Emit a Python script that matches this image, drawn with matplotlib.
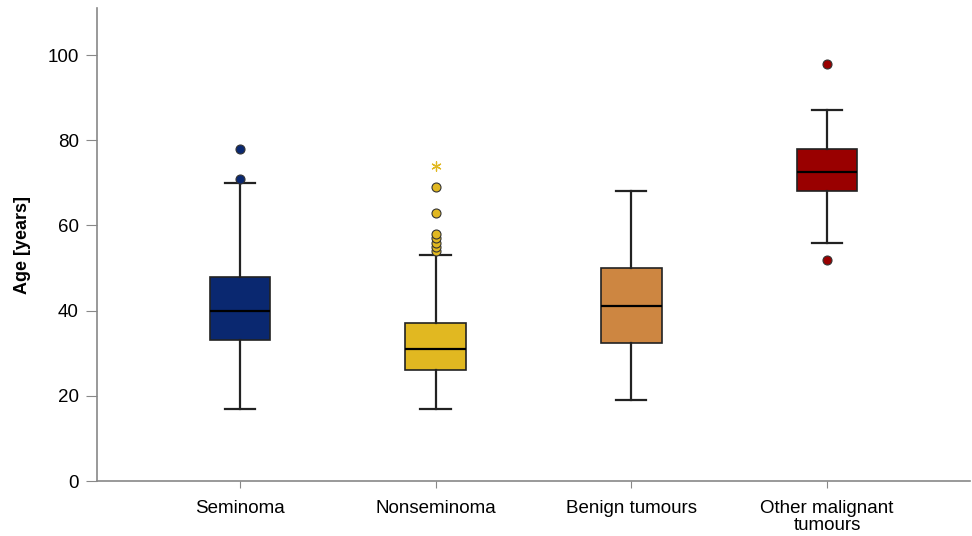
import matplotlib.pyplot as plt

# ============================================
# DATA
# ============================================

groups = ["Seminoma", "Nonseminoma", "Benign tumours", "Other malignant\ntumours"]
colors = ["#0a2870", "#e1b821", "#cd8641", "#990000"]

q1 = [33, 26, 32.5, 68]
median = [40, 31, 41, 72.5]
q3 = [48, 37, 50, 78]
whisker_low = [17, 17, 19, 56]
whisker_high = [70, 53, 68, 87]
outliers = [[71, 78], [54, 55, 56, 57, 58, 63, 69], [], [52, 98]]
extremes = [[], [74], [], []]

# ============================================
# PLOT
# ============================================

plt.rcParams["font.family"] = ["Liberation Sans", "DejaVu Sans"]

fig = plt.figure(figsize=(9.72, 5.36), dpi=100)
ax = fig.add_axes([0.0998, 0.1026, 0.898, 0.882])

stats = []
for i in range(len(groups)):
    stats.append({
        "label": groups[i],
        "q1": q1[i], "med": median[i], "q3": q3[i],
        "whislo": whisker_low[i], "whishi": whisker_high[i],
        "fliers": [],
    })

bp = ax.bxp(stats, positions=range(1, 5), widths=0.31, patch_artist=True,
            showfliers=False,
            boxprops=dict(edgecolor="#222222", linewidth=1.2),
            medianprops=dict(color="black", linewidth=1.6),
            whiskerprops=dict(color="#222222", linewidth=1.6),
            capprops=dict(color="#222222", linewidth=1.6),
            capwidths=0.155)

for patch, c in zip(bp["boxes"], colors):
    patch.set_facecolor(c)

# outliers (circles) and extremes (stars)
for i in range(len(groups)):
    if outliers[i]:
        ax.scatter([i + 1] * len(outliers[i]), outliers[i], s=42, color=colors[i],
                   edgecolor="#333333", linewidth=0.8, zorder=4)
    if extremes[i]:
        ax.scatter([i + 1] * len(extremes[i]), extremes[i], s=45, color=colors[i],
                   marker=(6, 2, 0), linewidth=0.9, zorder=4)

ax.set_xlim(0.27, 4.73)
ax.set_ylim(0, 111)
ax.set_yticks([0, 20, 40, 60, 80, 100])
ax.set_ylabel("Age [years]", fontsize=13, fontweight="bold", labelpad=12)

for side in ["top", "right"]:
    ax.spines[side].set_visible(False)
for side in ["left", "bottom"]:
    ax.spines[side].set_color("#888888")
    ax.spines[side].set_linewidth(1.2)

ax.tick_params(axis="y", length=8, color="#888888", labelsize=13.5, pad=5)
ax.tick_params(axis="x", length=5, color="#888888", labelsize=13.5, pad=9)
for lbl in ax.get_xticklabels():
    lbl.set_linespacing(0.95)

fig.savefig("out.png", dpi=100)
